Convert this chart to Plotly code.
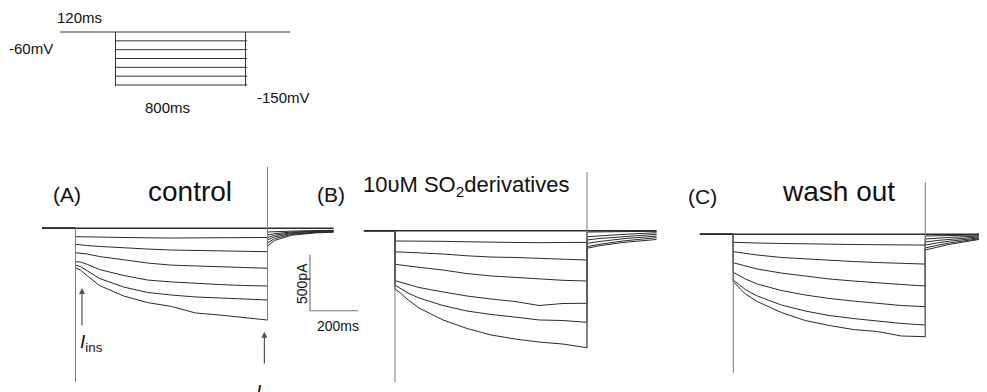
import plotly.graph_objects as go

W, H = 987, 392

# ---------------- data ----------------
pre_ms = [-140, 0]
step_ms = [0, 20, 50, 100, 200, 300, 400, 500, 600, 700, 800]

# (A) control: current during the 800 ms step, traces 1..6 (trace 0 stays at 0 pA)
control_step_pA = [
    [-75, -76, -78, -79, -82, -85, -87, -87, -85, -84, -82],
    [-143, -149, -154, -162, -176, -185, -194, -198, -203, -207, -209],
    [-218, -221, -230, -252, -283, -310, -329, -338, -347, -350, -357],
    [-298, -301, -323, -368, -421, -462, -479, -493, -502, -511, -515],
    [-328, -341, -381, -448, -524, -573, -596, -613, -622, -631, -640],
    [-352, -372, -426, -511, -604, -663, -698, -756, -774, -796, -819],
]
control_tail_ms = [800, 830, 900, 1000, 1075]
control_tail_pA = [
    [-33, -30, -25, -20, -18],
    [-60, -48, -33, -25, -21],
    [-82, -62, -40, -29, -25],
    [-104, -76, -47, -33, -28],
    [-131, -92, -55, -37, -32],
    [-158, -108, -62, -41, -35],
]
control_transient_pA = [-1372, 547]

# (B) 10 uM SO2 derivatives
so2_step_pA = [
    [-92, -92, -92, -92, -95, -99, -104, -105, -107, -105, -104],
    [-188, -190, -193, -197, -208, -224, -235, -239, -246, -255, -262],
    [-300, -306, -315, -327, -351, -383, -404, -418, -434, -443, -449],
    [-446, -458, -476, -507, -547, -583, -610, -632, -668, -650, -648],
    [-485, -512, -552, -601, -668, -717, -748, -771, -797, -802, -818],
    [-521, -552, -610, -690, -797, -873, -931, -967, -994, -1012, -1045],
]
so2_tail_ms = [800, 850, 950, 1090]
so2_tail_pA = [
    [-12, -10, -8, -5],
    [-54, -45, -33, -18],
    [-83, -70, -52, -32],
    [-113, -97, -72, -48],
    [-143, -122, -92, -62],
    [-157, -135, -105, -78],
]
so2_transient_pA = [-1351, 524]

# (C) wash out
wash_step_pA = [
    [-71, -73, -75, -78, -82, -87, -89, -91, -93, -94, -96],
    [-155, -161, -170, -185, -207, -221, -234, -243, -252, -259, -266],
    [-254, -265, -283, -310, -346, -372, -399, -417, -435, -448, -462],
    [-339, -363, -399, -444, -502, -542, -573, -596, -618, -636, -646],
    [-408, -444, -493, -551, -631, -685, -725, -752, -774, -796, -810],
    [-423, -471, -533, -600, -698, -770, -814, -850, -868, -908, -914],
]
wash_tail_ms = [800, 850, 900, 1055]
wash_tail_pA = [
    [-15, -12, -10, -5],
    [-42, -34, -28, -12],
    [-69, -55, -45, -18],
    [-96, -77, -62, -25],
    [-122, -98, -78, -30],
    [-140, -112, -90, -35],
]
wash_transient_pA = [-1238, 467]

# voltage protocol
protocol_hold_ms = [-340, 1075]
protocol_hold_mV = -60
protocol_step_ms = [0, 810]
protocol_steps_mV = [-75, -90, -105, -120, -135, -150]
protocol_edge_mV = [-60, -152]

scalebar_pA = 500
scalebar_ms = 200

# ---------------- layout helpers ----------------
OFF = 8       # page body margin offset of the figure
KX = 0.24     # px per ms
KY = 0.112    # px per pA
FONT = "Liberation Sans, Arial, sans-serif"
TRACE = "#2b2b2b"
GREY = "#7a7a7a"


def fx(px):
    return (px - OFF) / W


def fy(py):
    return 1 - (py - OFF) / H


panels = [
    # axis key, step data, tail ms, tail data, transient, onset px, baseline px, x range
    ("", control_step_pA, control_tail_ms, control_tail_pA, control_transient_pA, 75.5, 228.3, [-140, 1200]),
    ("2", so2_step_pA, so2_tail_ms, so2_tail_pA, so2_transient_pA, 395.0, 230.7, [-130, 1110]),
    ("3", wash_step_pA, wash_tail_ms, wash_tail_pA, wash_transient_pA, 733.3, 234.3, [-140, 1055]),
]

fig = go.Figure()
layout = {}
Y_TOP_PX, Y_BOT_PX = 160, 395

for key, step, tail_ms, tail, trans, x0, y0, xr in panels:
    xa, ya = "x" + key, "y" + key
    t_start = max(pre_ms[0], xr[0])
    fig.add_trace(go.Scatter(x=[t_start, tail_ms[-1]], y=[0, 0],
                             mode="lines", line=dict(color=TRACE, width=1.5),
                             xaxis=xa, yaxis=ya))
    for i in range(len(step)):
        xs = [t_start, pre_ms[1]] + step_ms + tail_ms
        ys = [0, 0] + step[i] + tail[i]
        fig.add_trace(go.Scatter(x=xs, y=ys, mode="lines",
                                 line=dict(color=TRACE, width=1),
                                 xaxis=xa, yaxis=ya))
    # capacitive transients at step on / off
    fig.add_trace(go.Scatter(x=[0, 0], y=[0, trans[0]], mode="lines",
                             line=dict(color=GREY, width=1), xaxis=xa, yaxis=ya))
    fig.add_trace(go.Scatter(x=[800, 800], y=[step[-1][-1], trans[1]], mode="lines",
                             line=dict(color=GREY, width=1), xaxis=xa, yaxis=ya))
    layout["xaxis" + key] = dict(domain=[fx(x0 + KX * xr[0]), fx(x0 + KX * xr[1])],
                                 range=xr, visible=False, anchor=ya, fixedrange=True)
    layout["yaxis" + key] = dict(domain=[fy(Y_BOT_PX), fy(Y_TOP_PX)],
                                 range=[-(Y_BOT_PX - y0) / KY, (y0 - Y_TOP_PX) / KY],
                                 visible=False, anchor=xa, fixedrange=True)

# scale bar (in panel A coordinates)
sb_t, sb_i = 977, -736
fig.add_trace(go.Scatter(x=[sb_t, sb_t, sb_t + scalebar_ms],
                         y=[sb_i + scalebar_pA, sb_i, sb_i], mode="lines",
                         line=dict(color=GREY, width=1.2), xaxis="x", yaxis="y"))

# voltage protocol (own axes)
PCOL = "#333"
fig.add_trace(go.Scatter(x=protocol_hold_ms, y=[protocol_hold_mV] * 2, mode="lines",
                         line=dict(color=PCOL, width=1), xaxis="x4", yaxis="y4"))
for v in protocol_steps_mV:
    fig.add_trace(go.Scatter(x=protocol_step_ms, y=[v, v], mode="lines",
                             line=dict(color=PCOL, width=1), xaxis="x4", yaxis="y4"))
for t in [0, 800]:
    fig.add_trace(go.Scatter(x=[t, t], y=protocol_edge_mV, mode="lines",
                             line=dict(color=PCOL, width=1), xaxis="x4", yaxis="y4"))
KPX, KPV = 0.1625, 0.589
layout["xaxis4"] = dict(domain=[fx(115.5 - KPX * 400), fx(115.5 + KPX * 1150)],
                        range=[-400, 1150], visible=False, anchor="y4", fixedrange=True)
layout["yaxis4"] = dict(domain=[fy(95), fy(20)],
                        range=[-60 - 63 / KPV, -60 + 12 / KPV],
                        visible=False, anchor="x4", fixedrange=True)


def txt(x, y, text, size, **kw):
    d = dict(x=fx(x), y=fy(y), xref="paper", yref="paper", text=text,
             showarrow=False, font=dict(family=FONT, size=size, color="#111"),
             xanchor="center", yanchor="middle")
    d.update(kw)
    return d


ann = [
    txt(79, 17, "120ms", 15),
    txt(31, 48, "-60mV", 15),
    txt(283, 97, "-150mV", 15),
    txt(167, 108, "800ms", 15),
    txt(67, 194, "(A)", 21),
    txt(190, 191, "control", 28),
    txt(331, 194, "(B)", 21),
    txt(466, 186, "10υM SO<sub>2</sub>derivatives", 22),
    txt(702, 196, "(C)", 21),
    txt(838, 191, "wash out", 28),
    txt(302, 284, "500pA", 14, textangle=-90),
    txt(338, 326, "200ms", 14),
    txt(91, 343, "<i>I</i><sub>ins</sub>", 19),
    txt(265, 393, "<i>I</i><sub>ss</sub>", 19),
]
# arrows (panel A coordinates)
for tx, tip, tail in [(27, -533, -881), (787, -923, -1221)]:
    ann.append(dict(x=tx, y=tip, ax=tx, ay=tail, xref="x", yref="y", axref="x", ayref="y",
                    text="", showarrow=True, arrowhead=2, arrowsize=1, arrowwidth=1.2,
                    arrowcolor="#555"))

fig.update_layout(width=W, height=H, margin=dict(l=0, r=0, t=0, b=0),
                  paper_bgcolor="white", plot_bgcolor="rgba(0,0,0,0)",
                  showlegend=False, annotations=ann, **layout)
fig.update_traces(hoverinfo="skip")
fig.write_html("out.html")
